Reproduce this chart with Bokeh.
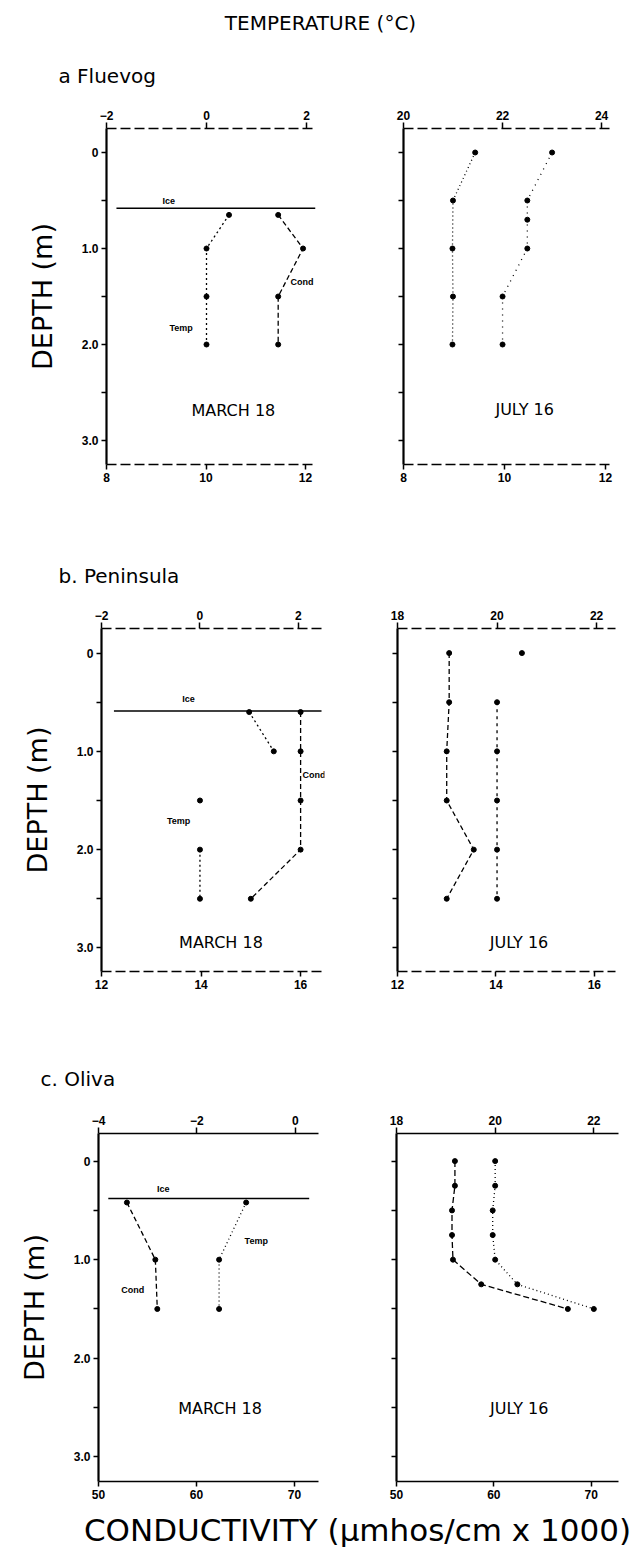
from bokeh.plotting import figure
from bokeh.layouts import column, row
from bokeh.models import Range1d, LinearAxis, FixedTicker, Label
from bokeh.embed import file_html
from bokeh.resources import INLINE
from bokeh.core.properties import value

# ---------------- data ----------------
# a. Fluevog
ice_a = 0.58
mar_a_temp_depth = [0.65, 1.0, 1.5, 2.0]
mar_a_temp = [0.45, 0.0, 0.0, 0.0]
mar_a_cond_depth = [0.65, 1.0, 1.5, 2.0]
mar_a_cond = [11.45, 11.95, 11.45, 11.45]
jul_a_cond_depth = [0.0, 0.5, 1.0, 1.5, 2.0]
jul_a_cond = [9.42, 8.98, 8.97, 8.98, 8.97]
jul_a_temp_depth = [0.0, 0.5, 0.7, 1.0, 1.5, 2.0]
jul_a_temp = [23.0, 22.5, 22.5, 22.5, 22.0, 22.0]

# b. Peninsula
ice_b = 0.59
mar_b_temp_depth = [0.6, 1.0, 1.5, 2.0, 2.5]
mar_b_temp = [1.0, 1.5, 0.0, 0.0, 0.0]
mar_b_cond_depth = [0.6, 1.0, 1.5, 2.0, 2.5]
mar_b_cond = [16.0, 16.0, 16.0, 16.0, 15.0]
jul_b_cond_depth = [0.0, 0.5, 1.0, 1.5, 2.0, 2.5]
jul_b_cond = [13.05, 13.05, 13.0, 13.0, 13.55, 13.0]
jul_b_temp_depth = [0.0, 0.5, 1.0, 1.5, 2.0, 2.5]
jul_b_temp = [20.5, 20.0, 20.0, 20.0, 20.0, 20.0]

# c. Oliva
ice_c = 0.38
mar_c_temp_depth = [0.42, 1.0, 1.5]
mar_c_temp = [-1.0, -1.55, -1.55]
mar_c_cond_depth = [0.42, 1.0, 1.5]
mar_c_cond = [52.9, 55.8, 56.0]
jul_c_cond_depth = [0.0, 0.25, 0.5, 0.75, 1.0, 1.25, 1.5]
jul_c_cond = [56.0, 56.0, 55.7, 55.7, 55.8, 58.7, 67.6]
jul_c_temp_depth = [0.0, 0.25, 0.5, 0.75, 1.0, 1.25, 1.5]
jul_c_temp = [20.0, 20.0, 19.95, 19.95, 20.0, 20.45, 22.0]

depth_ticks = [0, 1, 2, 3]
depth_minor = [0.5, 1.5, 2.5]
depth_labels = {0: "0", 1: "1.0", 2: "2.0", 3: "3.0"}

FONT = "DejaVu Sans"
TICKFONT = "Liberation Sans"
TEMP_DASH = "2 3"
COND_DASH = "5 3"


def make_panel(w, mbl, mbr, frame_h, mbt, mbb, cond_rng, temp_rng, depth_rng,
               cond_ticks, temp_ticks, axis_dash, left_panel):
    p = figure(width=w, height=mbt + frame_h + mbb,
               x_range=Range1d(*cond_rng), y_range=Range1d(*depth_rng),
               output_backend="svg", toolbar_location=None, title=None,
               min_border_left=mbl, min_border_right=mbr,
               min_border_top=mbt, min_border_bottom=mbb)
    p.extra_x_ranges = {"temp": Range1d(*temp_rng)}
    p.grid.visible = False
    p.outline_line_color = None
    p.background_fill_color = "white"
    p.border_fill_color = "white"

    xa = p.xaxis[0]
    xa.ticker = FixedTicker(ticks=cond_ticks)
    xa.minor_tick_line_color = None
    xa.major_tick_in = 0
    xa.major_tick_out = 5
    xa.major_label_standoff = 3
    xa.axis_line_width = 1.5
    xa.major_tick_line_width = 1.5
    if axis_dash:
        xa.axis_line_dash = axis_dash
    xa.major_label_text_font = TICKFONT
    xa.major_label_text_font_style = "bold"
    xa.major_label_text_font_size = "12px"
    xa.major_label_text_color = "black"

    top = LinearAxis(x_range_name="temp", ticker=FixedTicker(ticks=temp_ticks))
    top.minor_tick_line_color = None
    top.major_tick_in = 0
    top.major_tick_out = 6
    top.major_label_standoff = 3
    top.axis_line_width = 1.5
    top.major_tick_line_width = 1.5
    if axis_dash:
        top.axis_line_dash = axis_dash
    top.major_label_text_font = TICKFONT
    top.major_label_text_font_style = "bold"
    top.major_label_text_font_size = "12px"
    top.major_label_text_color = "black"
    p.add_layout(top, "above")

    ya = p.yaxis[0]
    ya.ticker = FixedTicker(ticks=depth_ticks, minor_ticks=depth_minor)
    ya.axis_line_width = 2.2
    ya.major_tick_in = 0
    ya.major_tick_out = 5
    ya.minor_tick_in = 0
    ya.minor_tick_out = 5
    ya.major_tick_line_width = 1.3
    ya.minor_tick_line_width = 1.3
    ya.major_label_standoff = 3
    ya.major_label_text_font = TICKFONT
    ya.major_label_text_font_style = "bold"
    ya.major_label_text_font_size = "12px"
    ya.major_label_text_color = "black"
    if left_panel:
        ya.major_label_overrides = depth_labels
        ya.axis_label = "DEPTH (m)"
        ya.axis_label_text_font = FONT
        ya.axis_label_text_font_style = "normal"
        ya.axis_label_text_font_size = "27px"
        ya.axis_label_standoff = 21
        ya.axis_label_text_color = "black"
    else:
        ya.major_label_overrides = {0: "", 1: "", 2: "", 3: ""}
    return p


def add_series(p, depth, vals, dash, on_temp, line_slices=None):
    kw = {"x_range_name": "temp"} if on_temp else {}
    slices = line_slices if line_slices is not None else [slice(None)]
    for sl in slices:
        p.line(vals[sl], depth[sl], line_color="black", line_width=1.3,
               line_dash=dash, **kw)
    p.scatter(vals, depth, marker="circle", size=5, fill_color="black",
              line_color="black", **kw)


def add_text(p, x, y, t, size, style="bold", align="center", font=TICKFONT):
    p.add_layout(Label(x=x, y=y, text=t, text_font=font, text_font_size=size,
                       text_font_style=style, text_align=align,
                       text_baseline="middle", text_color="black"))


def add_ice(p, depth, x0, x1, lx, ly):
    p.segment(x0=[x0], y0=[depth], x1=[x1], y1=[depth], line_color="black",
              line_width=1.6)
    add_text(p, lx, ly, "Ice", "9px")


def add_date(p, x, y, t):
    add_text(p, x, y, t, "16px", "normal", "center", FONT)


# ---------------- panel a ----------------
aL = make_panel(330, 106, 15, 336, 38, 76, (8, 12.2), (-2, 2.18), (3.25, -0.25),
                [8, 10, 12], [-2, 0, 2], "10 4", True)
add_ice(aL, ice_a, 8.2, 12.2, 9.25, 0.5)
add_series(aL, mar_a_temp_depth, mar_a_temp, TEMP_DASH, True)
add_series(aL, mar_a_cond_depth, mar_a_cond, COND_DASH, False)
add_text(aL, 9.5, 1.83, "Temp", "9px")
add_text(aL, 11.7, 1.35, "Cond", "9px", align="left")
add_date(aL, 10.55, 2.69, "MARCH 18")

aR = make_panel(313, 73, 30, 336, 38, 76, (8, 12.16), (20, 24.24), (3.25, -0.25),
                [8, 10, 12], [20, 22, 24], "10 4", False)
add_series(aR, jul_a_cond_depth, jul_a_cond, "1 3", False)
add_series(aR, jul_a_temp_depth, jul_a_temp, "1 5", True)
add_date(aR, 10.4, 2.68, "JULY 16")

# ---------------- panel b ----------------
bL = make_panel(330, 101, 6, 343, 38, 69, (12, 16.48), (-2, 2.53), (3.24, -0.25),
                [12, 14, 16], [-2, 0, 2], "10 4", True)
add_ice(bL, ice_b, 12.25, 16.42, 13.75, 0.47)
add_series(bL, mar_b_temp_depth, mar_b_temp, TEMP_DASH, True,
           [slice(0, 2), slice(3, None)])
add_series(bL, mar_b_cond_depth, mar_b_cond, COND_DASH, False)
add_text(bL, 13.55, 1.71, "Temp", "9px")
add_text(bL, 16.04, 1.24, "Cond", "9px", align="left")
add_date(bL, 14.4, 2.95, "MARCH 18")

bR = make_panel(313, 67, 28, 343, 38, 69, (12, 16.43), (18, 22.38), (3.24, -0.25),
                [12, 14, 16], [18, 20, 22], "10 4", False)
add_series(bR, jul_b_cond_depth, jul_b_cond, COND_DASH, False)
add_series(bR, jul_b_temp_depth, jul_b_temp, "3 4", True, [slice(1, None)])
add_date(bR, 14.47, 2.94, "JULY 16")

# ---------------- panel c ----------------
cL = make_panel(330, 98, 12, 348, 38, 24, (50, 72.45), (-4, 0.47), (3.25, -0.28),
                [50, 60, 70], [-4, -2, 0], None, True)
add_ice(cL, ice_c, 51.0, 71.5, 56.6, 0.28)
add_series(cL, mar_c_temp_depth, mar_c_temp, "1 3", True)
add_series(cL, mar_c_cond_depth, mar_c_cond, COND_DASH, False)
add_text(cL, 66.1, 0.81, "Temp", "9px")
add_text(cL, 53.5, 1.31, "Cond", "9px")
add_date(cL, 62.4, 2.51, "MARCH 18")

cR = make_panel(313, 66, 25, 348, 38, 24, (50, 72.8), (18, 22.5), (3.25, -0.28),
                [50, 60, 70], [18, 20, 22], None, False)
add_series(cR, jul_c_cond_depth, jul_c_cond, "6 3", False)
add_series(cR, jul_c_temp_depth, jul_c_temp, "1 3", True)
add_date(cR, 62.6, 2.51, "JULY 16")


# ---------------- header / footer strips ----------------
def strip(h):
    s = figure(width=643, height=h, x_range=Range1d(0, 643), y_range=Range1d(h, 0),
               output_backend="svg", toolbar_location=None, title=None,
               x_axis_type=None, y_axis_type=None, min_border=0)
    s.grid.visible = False
    s.outline_line_color = None
    return s


def strip_text(s, x, y, t, size, align="left"):
    s.text(x=[x], y=[y], text=[t], text_font=value(FONT), text_font_size=size,
           text_align=align, text_baseline="middle", text_color="black")


hA = strip(90)
strip_text(hA, 320, 22, "TEMPERATURE (°C)", "20px", "center")
strip_text(hA, 58, 75, "a Fluevog", "20px")

hB = strip(50)
strip_text(hB, 58, 35, "b. Peninsula", "20px")

hC = strip(55)
strip_text(hC, 40, 38, "c. Oliva", "20px")

foot = strip(46)
strip_text(foot, 357, 24, "CONDUCTIVITY (µmhos/cm x 1000)", "31px", "center")

layout = column(hA, row(aL, aR), hB, row(bL, bR), hC, row(cL, cR), foot)

with open("out.html", "w") as f:
    f.write(file_html(layout, INLINE))
